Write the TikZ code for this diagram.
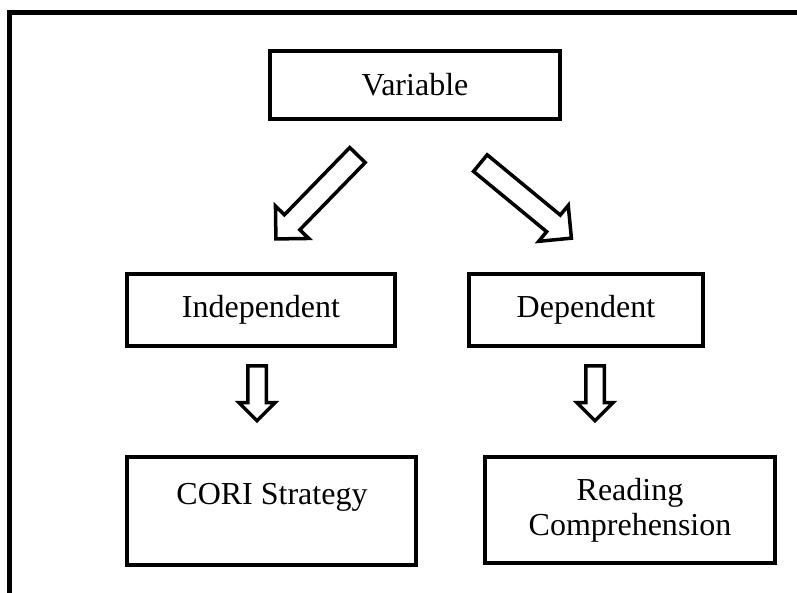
\documentclass[tikz,border=0pt]{standalone}
\usepackage{fontspec}
\setmainfont{Liberation Serif}
\usetikzlibrary{shapes.arrows,positioning}

\begin{document}
\begin{tikzpicture}[
    x=1pt, y=-1pt,
    font=\fontsize{32}{35}\selectfont,
    box/.style={rectangle, draw, line width=4pt, inner sep=0pt, align=center},
    blockarrow/.style={single arrow, draw, line width=3.5pt, inner sep=0pt, text depth=0pt, single arrow head indent=0pt, anchor=tail}
]
\useasboundingbox (0,0) rectangle (797,593);

% Frame: left and top edges only
\draw[line width=5pt] (9.5,593) -- (9.5,12.5) -- (797,12.5);

\node[box, minimum width=290, minimum height=68] (variable) at (415,85) {Variable};
\node[box, minimum width=268, minimum height=72] (independent) at (261,310) {Independent};
\node[box, minimum width=234, minimum height=72] (dependent) at (586,310) {Dependent};
\node[box, minimum width=289, minimum height=108] (cori) at (271.5,511) {};
\node (coritext) at (272,497) {CORI Strategy};
\node[box, minimum width=290, minimum height=106] (reading) at (630,510) {Reading\\Comprehension};

% Block arrows
\node[blockarrow, text height=18pt, single arrow head extend=12.5pt, minimum height=117, rotate=225.8] (arrowleft) at (358.7,153.8) {};
\node[blockarrow, text height=18pt, single arrow head extend=12.5pt, minimum height=118, rotate=-39.5] (arrowright) at (479,162) {};
\node[blockarrow, text height=15pt, single arrow head extend=9pt, minimum height=55, rotate=-90] (downleft) at (257,364) {};
\node[blockarrow, text height=15pt, single arrow head extend=9pt, minimum height=55, rotate=-90] (downright) at (595,364) {};

\end{tikzpicture}
\end{document}
